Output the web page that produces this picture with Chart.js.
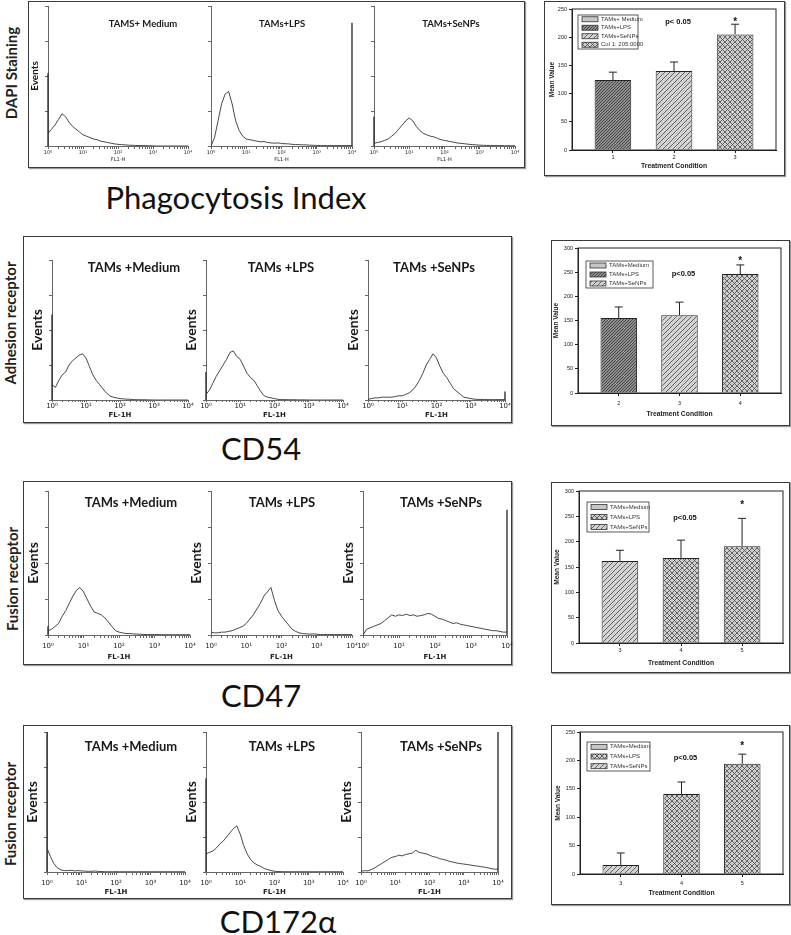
<!DOCTYPE html>
<html>
<head>
<meta charset="utf-8">
<script src="https://cdn.jsdelivr.net/npm/chart.js@4.4.1/dist/chart.umd.min.js"></script>
<style>
  body { margin: 0; width: 791px; height: 935px; position: relative; overflow: hidden; background: #fff; font-family: Lato, sans-serif; }
  .box { position: absolute; box-sizing: border-box; border: 1.5px solid #3a3a3a; box-shadow: 1px 1px 1px #999; }
  canvas { position: absolute; }
  .side { position: absolute; transform: translate(-50%, -50%) rotate(-90deg); font: bold 15px Lato, sans-serif; color: #222; white-space: nowrap; line-height: 1; }
  .cap { position: absolute; transform: translate(-50%, -50%); font: 31px Lato, sans-serif; color: #111; white-space: nowrap; line-height: 1; }
</style>
</head>
<body>
<script>
// FL1-H positions, in decades (10^0 .. 10^4)
const logGrid = [0, 0.1, 0.2, 0.3, 0.4, 0.5, 0.6, 0.7, 0.8, 0.9, 1, 1.1, 1.2, 1.3, 1.4, 1.5, 1.6, 1.7, 1.8, 1.9,
  2, 2.1, 2.2, 2.3, 2.4, 2.5, 2.6, 2.7, 2.8, 2.9, 3, 3.1, 3.2, 3.3, 3.4, 3.5, 3.6, 3.7, 3.8, 3.9, 4];
const flDecades = ['10⁰', '10¹', '10²', '10³', '10⁴'];

// histogram counts (% of full scale)
const dapiMedium = [9, 12, 15, 19, 23, 21, 17, 14, 12, 10, 8, 7, 6, 5, 4.5, 3.5, 3, 2.5, 2, 1.5,
  1.2, 1, 0.8, 0.6, 0.5, 0.4, 0.3, 0.3, 0.2, 0.2, 0.1, 0, 0, 0, 0, 0, 0, 0, 0, 0, 0];
const dapiLPS = [0, 6, 18, 30, 37, 39, 30, 18, 11, 7, 5, 4.5, 4, 3.5, 3, 3.2, 2.5, 2.2, 2, 2.2,
  1.8, 1.6, 1.5, 1.2, 1, 1, 0.8, 0.8, 0.6, 0.5, 0.4, 0.3, 0.3, 0.3, 0.3, 0.3, 0.3, 0.3, 0.3, 0.3, 0.3];
const dapiSeNPs = [2, 2.5, 3, 4, 5, 7, 9, 12, 15, 18, 20, 18, 14, 11, 9, 8, 7, 6.5, 5.5, 4.5,
  4, 3.5, 3, 2.5, 2, 1.8, 1.5, 1.2, 1, 0.8, 0.6, 0.5, 0.4, 0.4, 0.3, 0.3, 0.3, 0.2, 0.2, 0.2, 0.2];
const dapiSpikes = [[52, 0], [0, 88], [21, 0]];

const cd54Medium = [11, 9, 14, 18, 20, 25, 28, 30, 32, 33, 30, 24, 18, 14, 11, 8, 5, 3, 2, 1.5,
  1, 0.8, 0.6, 0.5, 0.3, 0.2, 0.2, 0.2, 0.1, 0.1, 0, 0, 0, 0, 0, 0, 0, 0, 0, 0, 0];
const cd54LPS = [4, 7, 12, 17, 21, 25, 29, 34, 35, 31, 29, 24, 19, 16, 14, 10, 6, 3, 2, 1.5,
  1, 0.5, 0.3, 0.3, 0.2, 0.2, 0.2, 0.1, 0.1, 0.1, 0, 0, 0, 0, 0, 0, 0, 0, 0, 0, 0];
const cd54SeNPs = [0.5, 1, 1.5, 1.5, 2, 2, 2, 2, 2.5, 3, 3, 4, 5, 7, 10, 14, 19, 25, 29, 33,
  30, 24, 19, 16, 12, 8, 6, 4, 2, 1.5, 1, 0.6, 0.4, 0.4, 0.4, 0.3, 0.3, 0.3, 0.3, 0.3, 0.3];
const cd54Spikes = [[61, 0], [20, 0], [0, 6]];

const cd47Medium = [3, 4, 6, 8, 13, 17, 22, 27, 31, 33, 30, 25, 20, 16, 15, 14, 12, 9, 6, 3,
  2, 1.5, 1, 1, 0.8, 0.6, 0.5, 0.4, 0.3, 0.3, 0.3, 0.3, 0.2, 0.2, 0.2, 0.2, 0.2, 0.2, 0.2, 0.2, 0.2];
const cd47LPS = [2, 1.5, 1.5, 2, 2, 2.5, 3, 4, 5, 6, 8, 11, 14, 18, 22, 27, 30, 33, 24, 17,
  13, 10, 7, 4, 2.5, 1.5, 1, 0.8, 0.6, 0.8, 0.5, 0.3, 0.3, 0.3, 0.3, 0.3, 0.3, 0.3, 0.3, 0.3, 0.3];
const cd47SeNPs = [0, 4, 5, 6, 7, 8, 10, 12, 14, 13, 14, 13.5, 14.5, 13.5, 14, 13, 13.5, 14, 15, 14.5,
  13, 11.5, 11, 10, 9, 8, 8.5, 7.5, 7, 6.5, 6, 5.5, 5, 4.5, 4, 3.5, 3, 3, 2.5, 2, 2];
const cd47Spikes = [[6, 0], [0, 0], [0, 87]];

const cd172Medium = [17, 11, 6, 3, 1.5, 1, 1, 1.2, 0.8, 1, 0.8, 0.6, 0.5, 0.5, 0.7, 0.4, 0.3, 0.2, 0.2, 0.2,
  0.2, 0.2, 0.2, 0.2, 0.2, 0.2, 0.2, 0.2, 0.2, 0.2, 0.2, 0.2, 0.2, 0.2, 0.2, 0.2, 0.2, 0.2, 0.2, 0.2, 0.2];
const cd172LPS = [13, 14, 15, 17, 20, 22, 25, 28, 31, 33, 27, 19, 13, 9, 6.5, 5, 4, 2.5, 1.7, 1,
  0.5, 0.3, 0.3, 0.2, 0.2, 0.2, 0.2, 0.2, 0.2, 0.2, 0.2, 0.2, 0.2, 0.2, 0.2, 0.2, 0.2, 0.2, 0.2, 0.2, 0.2];
const cd172SeNPs = [0.5, 1, 0.8, 1.7, 3, 4.5, 6, 7.5, 9, 10.5, 11, 12, 11.5, 12.5, 13, 13.5, 15.5, 14, 13.5, 13,
  12, 11, 10.5, 9.5, 9, 8.3, 7.5, 7, 6.4, 6, 5.7, 5.3, 5, 4.5, 4.2, 3.8, 3.5, 3, 2.5, 2, 2];
const cd172Spikes = [[100, 0], [67, 0], [0, 100]];

const dapiTitles = ['TAMS+ Medium', 'TAMs+LPS', 'TAMs+SeNPs'];
const panelTitles = ['TAMs +Medium', 'TAMs +LPS', 'TAMs +SeNPs'];
const sideLabels = ['DAPI Staining', 'Adhesion receptor', 'Fusion receptor', 'Fusion receptor'];
const markers = ['Phagocytosis Index', 'CD54', 'CD47', 'CD172α'];

// mean value bar charts
const dapiConds = ['1', '2', '3'];
const dapiMeans = [124, 140, 205];
const dapiErrors = [14, 16, 18];
const dapiLegend = ['TAMs+ Medium', 'TAMs+LPS', 'TAMs+SeNPs', 'Col 1: 205.0000'];

const cd54Conds = ['2', '3', '4'];
const cd54Means = [155, 161, 246];
const cd54Errors = [23, 27, 19];
const cd54Legend = ['TAMs+Medium', 'TAMs+LPS', 'TAMs+SeNPs'];

const cd47Conds = ['3', '4', '5'];
const cd47Means = [162, 168, 191];
const cd47Errors = [21, 35, 55];
const cd47Legend = ['TAMs+Medium', 'TAMs+LPS', 'TAMs+SeNPs'];

const cd172Conds = ['3', '4', '5'];
const cd172Means = [16, 141, 194];
const cd172Errors = [21, 21, 17];
const cd172Legend = ['TAMs+Medium', 'TAMs+LPS', 'TAMs+SeNPs'];

const starValues = [230, 277, 276, 229];
const yMaxes = [250, 300, 300, 250];
const pLabels = ['p< 0.05', 'p<0.05', 'p<0.05', 'p<0.05'];

// ---------------------------------------------------------------
Chart.defaults.font.family = 'Lato, sans-serif';
Chart.defaults.color = '#222';
Chart.defaults.animation = false;
Chart.defaults.responsive = false;

const histRows = [
  { series: [dapiMedium, dapiLPS, dapiSeNPs], spikes: dapiSpikes, titles: dapiTitles, events: [true, false, false],
    xTitle: 'FL1-H', box: [28, 1, 497, 167], side: [11, 73], caption: [236, 197],
    plots: [[48, 6, 140, 140], [211, 6, 141, 140], [374, 6, 141, 140]], titleX: [143, 282, 451], titleY: 24,
    titleSize: 9.5, eventsSize: 10, eventsGap: 13, tickSize: 5, tickLen: 3, tickOff: 7, xTitleSize: 5, xTitleOff: 14, xBold: 'normal' },
  { series: [cd54Medium, cd54LPS, cd54SeNPs], spikes: cd54Spikes, titles: panelTitles, events: [true, true, true],
    xTitle: 'FL-1H', box: [23, 236, 489, 187], side: [10, 323], caption: [261, 448],
    plots: [[52, 260, 136, 140], [206, 260, 137, 140], [368, 260, 137, 140]], titleX: [134, 281, 434], titleY: 268,
    titleSize: 13, eventsSize: 14, eventsGap: 15, tickSize: 7, tickLen: 2, tickOff: 6, xTitleSize: 7, xTitleOff: 15, xBold: 'bold' },
  { series: [cd47Medium, cd47LPS, cd47SeNPs], spikes: cd47Spikes, titles: panelTitles, events: [true, true, true],
    xTitle: 'FL-1H', box: [23, 481, 489, 184], side: [12, 579], caption: [261, 695],
    plots: [[48, 491, 142, 144], [211, 491, 141, 144], [363, 491, 144, 144]], titleX: [131, 282, 441], titleY: 503,
    titleSize: 13, eventsSize: 14, eventsGap: 15, tickSize: 7, tickLen: 3, tickOff: 11, xTitleSize: 7, xTitleOff: 22, xBold: 'bold' },
  { series: [cd172Medium, cd172LPS, cd172SeNPs], spikes: cd172Spikes, titles: panelTitles, events: [true, true, true],
    xTitle: 'FL-1H', box: [23, 725, 489, 174], side: [10, 814], caption: [278, 921],
    plots: [[47, 732, 138, 140], [206, 732, 137, 140], [361, 732, 137, 140]], titleX: [131, 282, 441], titleY: 747,
    titleSize: 13, eventsSize: 14, eventsGap: 15, tickSize: 7, tickLen: 3, tickOff: 11, xTitleSize: 7, xTitleOff: 20, xBold: 'bold' }
];

const barRows = [
  { conds: dapiConds, means: dapiMeans, errors: dapiErrors, legend: dapiLegend, fills: ['dense', 'diag', 'cross'],
    legendFills: ['solid', 'dense', 'diag', 'cross'], box: [544, 1, 241, 175], plot: [572, 9, 204, 141],
    legendBox: [6, 6, 60, 34], pOff: 13, tickOff: 7, titleOff: 16, yTitleGap: 20 },
  { conds: cd54Conds, means: cd54Means, errors: cd54Errors, legend: cd54Legend, fills: ['dense', 'diag', 'cross'],
    legendFills: ['solid', 'dense', 'diag'], box: [551, 240, 239, 186], plot: [578, 248, 203, 145],
    legendBox: [8, 13, 67, 27], pOff: 26, tickOff: 10, titleOff: 21, yTitleGap: 22 },
  { conds: cd47Conds, means: cd47Means, errors: cd47Errors, legend: cd47Legend, fills: ['diag', 'cross', 'cross'],
    legendFills: ['solid', 'cross', 'diag'], box: [551, 482, 239, 191], plot: [579, 491, 204, 152],
    legendBox: [8, 11, 62, 30], pOff: 27, tickOff: 7, titleOff: 20, yTitleGap: 22 },
  { conds: cd172Conds, means: cd172Means, errors: cd172Errors, legend: cd172Legend, fills: ['diag', 'cross', 'cross'],
    legendFills: ['solid', 'cross', 'diag'], box: [551, 725, 239, 180], plot: [580, 732, 203, 142],
    legendBox: [7, 10, 63, 29], pOff: 26, tickOff: 9, titleOff: 19, yTitleGap: 22 }
];

// minor + major tick positions of the log axis
const flTicks = [];
for (let d = 0; d < 4; d++) for (let m = 1; m < 10; m++) flTicks.push(m * Math.pow(10, d));
flTicks.push(10000);

function addDiv(cls, text, x, y) {
  const el = document.createElement('div');
  el.className = cls;
  el.textContent = text;
  el.style.left = x + 'px';
  el.style.top = y + 'px';
  document.body.appendChild(el);
}

function addBox(b) {
  const el = document.createElement('div');
  el.className = 'box';
  el.style.left = b[0] + 'px'; el.style.top = b[1] + 'px';
  el.style.width = b[2] + 'px'; el.style.height = b[3] + 'px';
  document.body.appendChild(el);
}

function addCanvas(x, y, w, h) {
  const cv = document.createElement('canvas');
  cv.width = w; cv.height = h;
  cv.style.left = x + 'px'; cv.style.top = y + 'px';
  cv.style.width = w + 'px'; cv.style.height = h + 'px';
  document.body.appendChild(cv);
  return cv;
}

function histChart(r, i) {
  const [px, py, pw, ph] = r.plots[i];
  const yw = 30, pt = 4, pr = 10, xh = r.xTitleOff + 8;
  const cx = px - yw, cy = py - pt;
  const cv = addCanvas(cx, cy, yw + pw + pr, pt + ph + xh);
  const spike = (x, h) => ({ data: [{ x: x, y: 0 }, { x: x, y: h }], borderColor: '#333', borderWidth: 1.4, pointRadius: 0, clip: false });
  const title = {
    id: 'histTitle',
    afterDraw(c) {
      const g = c.ctx;
      g.save();
      g.font = `bold ${r.titleSize}px Lato, sans-serif`;
      g.fillStyle = '#1a1a1a';
      g.textAlign = 'center';
      g.textBaseline = 'middle';
      g.fillText(r.titles[i], r.titleX[i] - cx, r.titleY - cy);
      g.restore();
    }
  };
  new Chart(cv, {
    type: 'line',
    data: {
      datasets: [
        { data: r.series[i].map((v, k) => ({ x: Math.pow(10, logGrid[k]), y: v })), borderColor: '#333',
          borderWidth: 0.9, pointRadius: 0, tension: 0 },
        spike(1, r.spikes[i][0]),
        spike(10000, r.spikes[i][1])
      ]
    },
    options: {
      layout: { padding: { top: pt, right: pr, left: 0, bottom: 0 } },
      plugins: { legend: { display: false }, tooltip: { enabled: false } },
      scales: {
        x: {
          type: 'logarithmic', min: 1, max: 10000,
          afterBuildTicks: s => { s.ticks = flTicks.map(v => ({ value: v })); },
          afterFit: s => { s.height = xh; },
          grid: { drawOnChartArea: false, tickLength: r.tickLen, color: '#666' },
          border: { color: '#666' },
          ticks: {
            autoSkip: false, maxRotation: 0, color: '#222',
            padding: Math.max(0, r.tickOff - r.tickLen - 0.6 * r.tickSize),
            font: { size: r.tickSize, family: 'DejaVu Sans' },
            callback: v => {
              const e = Math.log10(v);
              return Math.abs(e - Math.round(e)) < 1e-6 ? flDecades[Math.round(e)] : '';
            }
          },
          title: { display: true, text: r.xTitle, color: '#222', font: { size: r.xTitleSize, weight: r.xBold, family: 'DejaVu Sans' },
            padding: { top: 0, bottom: xh - r.xTitleOff - 0.6 * r.xTitleSize } }
        },
        y: {
          min: 0, max: 100,
          afterFit: s => { s.width = yw; },
          grid: { drawOnChartArea: false, tickLength: 3, color: '#666' },
          border: { color: '#666' },
          ticks: { display: false, stepSize: 25 },
          title: { display: r.events[i], text: 'Events', color: '#1a1a1a', font: { size: r.eventsSize, weight: 'bold' },
            padding: { top: yw - r.eventsGap - 0.6 * r.eventsSize, bottom: 0 } }
        }
      }
    },
    plugins: [title]
  });
}

// hatch patterns of the bar charts
function makePattern(kind) {
  const s = kind === 'dense' ? 3 : 5;
  const c = document.createElement('canvas');
  c.width = s; c.height = s;
  const g = c.getContext('2d');
  g.fillStyle = { solid: '#c6c6c6', dense: '#8c8c8c', diag: '#d2d2d2', cross: '#cdcdcd' }[kind];
  g.fillRect(0, 0, s, s);
  g.strokeStyle = kind === 'dense' ? '#3a3a3a' : '#4a4a4a';
  g.lineWidth = 0.8;
  if (kind !== 'solid') {
    g.beginPath();
    g.moveTo(-1, s + 1); g.lineTo(s + 1, -1);
    g.moveTo(-1, 1); g.lineTo(1, -1);
    g.moveTo(s - 1, s + 1); g.lineTo(s + 1, s - 1);
    g.stroke();
  }
  if (kind === 'cross') {
    g.beginPath();
    g.moveTo(-1, -1); g.lineTo(s + 1, s + 1);
    g.moveTo(s - 1, -1); g.lineTo(s + 1, 1);
    g.moveTo(-1, s - 1); g.lineTo(1, s + 1);
    g.stroke();
  }
  return g.createPattern(c, 'repeat');
}
const patterns = { solid: makePattern('solid'), dense: makePattern('dense'), diag: makePattern('diag'), cross: makePattern('cross') };

function barChart(r, k) {
  const [bx, by, bw, bh] = r.box;
  const [px, py, pw, ph] = r.plot;
  const cx = bx + 1, cy = by + 1, cw = bw - 2, ch = bh - 2;
  const yw = px - cx, pt = py - cy, pr = cx + cw - (px + pw), xh = cy + ch - (py + ph);
  const cv = addCanvas(cx, cy, cw, ch);
  const font = 'Liberation Sans, Arial, sans-serif';
  const extras = {
    id: 'barExtras',
    afterDatasetsDraw(c) {
      const g = c.ctx, xs = c.scales.x, ys = c.scales.y, a = c.chartArea;
      g.save();
      g.strokeStyle = '#222';
      g.lineWidth = 1;
      r.means.forEach((m, i) => {
        const x = xs.getPixelForValue(i + 1);
        const y0 = ys.getPixelForValue(m), y1 = ys.getPixelForValue(m + r.errors[i]);
        g.beginPath();
        g.moveTo(x, y0); g.lineTo(x, y1);
        g.moveTo(x - 4, y1); g.lineTo(x + 4, y1);
        g.stroke();
      });
      g.strokeRect(a.left, a.top, a.right - a.left, a.bottom - a.top);
      g.fillStyle = '#111';
      g.textAlign = 'center';
      g.textBaseline = 'middle';
      g.font = `bold 10px ${font}`;
      g.fillText('*', xs.getPixelForValue(3), ys.getPixelForValue(starValues[k]) + 2);
      g.font = `bold 7.5px ${font}`;
      g.fillText(pLabels[k], (a.left + a.right) / 2 + 4, a.top + r.pOff);
      // legend
      const [lx0, ly0, lw, lh] = r.legendBox;
      const lx = a.left + lx0, ly = a.top + ly0;
      g.lineWidth = 0.8;
      g.strokeStyle = '#333';
      g.strokeRect(lx, ly, lw, lh);
      const step = lh / r.legend.length;
      g.textAlign = 'left';
      g.font = `6px ${font}`;
      r.legend.forEach((t, i) => {
        const yc = ly + step * (i + 0.5);
        g.fillStyle = patterns[r.legendFills[i]];
        g.fillRect(lx + 4, yc - 2.5, 16, 5);
        g.strokeRect(lx + 4, yc - 2.5, 16, 5);
        g.fillStyle = '#333';
        g.fillText(t, lx + 23, yc);
      });
      g.restore();
    }
  };
  new Chart(cv, {
    type: 'bar',
    data: {
      datasets: [{
        data: r.means.map((v, i) => ({ x: i + 1, y: v })),
        backgroundColor: r.fills.map(f => patterns[f]),
        borderColor: '#222', borderWidth: 1,
        categoryPercentage: 1, barPercentage: 0.6
      }]
    },
    options: {
      layout: { padding: { top: pt, right: pr, left: 0, bottom: 0 } },
      plugins: { legend: { display: false }, tooltip: { enabled: false } },
      scales: {
        x: {
          type: 'linear', min: 0.33, max: 3.67, offset: false,
          afterBuildTicks: s => { s.ticks = r.conds.map((c, i) => ({ value: i + 1 })); },
          afterFit: s => { s.height = xh; },
          grid: { drawOnChartArea: false, tickLength: 3, color: '#222', offset: false },
          border: { color: '#222' },
          ticks: { color: '#222', font: { size: 5.5, family: font }, padding: Math.max(0, r.tickOff - 3 - 3.3),
            callback: v => r.conds[Math.round(v) - 1] },
          title: { display: true, text: 'Treatment Condition', color: '#222', font: { size: 6.8, weight: 'bold', family: font },
            padding: { top: 0, bottom: xh - r.titleOff - 4.1 } }
        },
        y: {
          min: 0, max: yMaxes[k],
          afterFit: s => { s.width = yw; },
          grid: { drawOnChartArea: false, tickLength: 3, color: '#222' },
          border: { color: '#222' },
          ticks: { stepSize: 50, color: '#222', padding: 2, font: { size: 5.5, family: font } },
          title: { display: true, text: 'Mean Value', color: '#222', font: { size: 6.5, weight: 'bold', family: font },
            padding: { top: Math.max(0, yw - r.yTitleGap - 3.9), bottom: 0 } }
        }
      }
    },
    plugins: [extras]
  });
}

histRows.forEach((r, n) => {
  addBox(r.box);
  addDiv('side', sideLabels[n], r.side[0], r.side[1]);
  addDiv('cap', markers[n], r.caption[0], r.caption[1]);
  r.plots.forEach((p, i) => histChart(r, i));
});
barRows.forEach((r, k) => {
  addBox(r.box);
  barChart(r, k);
});
</script>
</body>
</html>
